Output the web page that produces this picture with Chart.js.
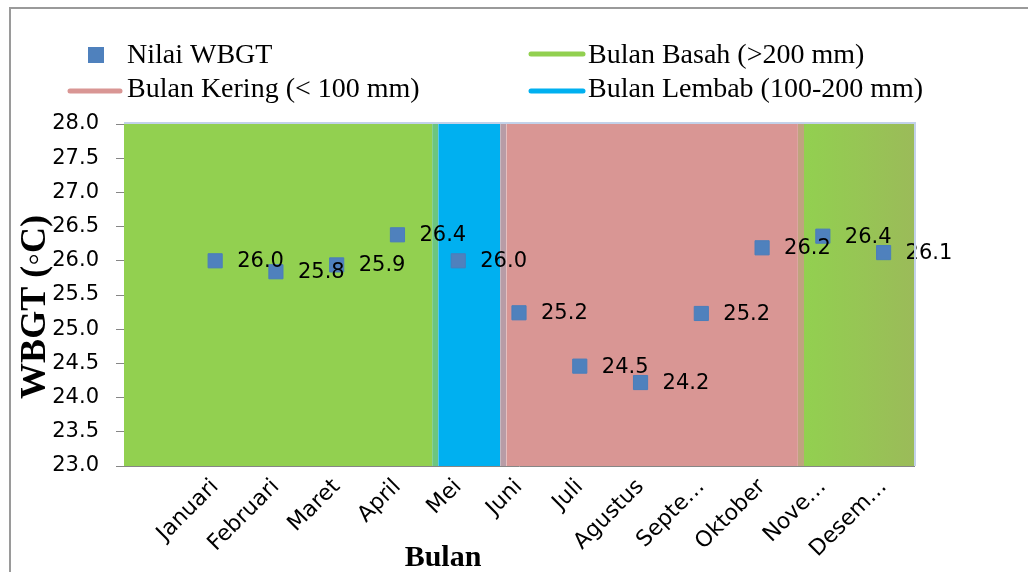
<!DOCTYPE html>
<html>
<head>
<meta charset="utf-8">
<script src="https://cdn.jsdelivr.net/npm/chart.js@4.4.1/dist/chart.umd.min.js"></script>
<style>
body { margin: 0; background: #fff; }
#wadah { position: relative; width: 1028px; height: 572px; overflow: hidden; }
#bingkai { position: absolute; left: 9px; top: 7px; width: 1100px; height: 700px; border: 2px solid #9a9a9a; }
#grafik { position: absolute; left: 0; top: 0; }
</style>
</head>
<body>
<div id="wadah">
  <div id="bingkai"></div>
  <canvas id="grafik" width="1028" height="572"></canvas>
</div>
<script>
// data
const bulan = ['Januari', 'Februari', 'Maret', 'April', 'Mei', 'Juni', 'Juli', 'Agustus', 'Septe…', 'Oktober', 'Nove…', 'Desem…'];
const nilaiWBGT = [26.0, 25.84, 25.94, 26.38, 26.0, 25.24, 24.46, 24.22, 25.23, 26.19, 26.36, 26.12];
const labelSumbuY = ['23.0', '23.5', '24.0', '24.5', '25.0', '25.5', '26.0', '26.5', '27.0', '27.5', '28.0'];

// pita musim (satuan = indeks bulan), termasuk garis peralihan tipis
const pitaAwal  = [-1.5, 3.57, 3.67, 4.69, 4.79, 9.59, 9.69];
const pitaAkhir = [3.57, 3.67, 4.69, 4.79, 9.59, 9.69, 11.5];
const pitaNama  = ['Bulan Basah (>200 mm)', '', 'Bulan Lembab (100-200 mm)', '', 'Bulan Kering (< 100 mm)', '', 'Bulan Basah (>200 mm)'];

const warnaPita = ['#92D050', '#6CC580', '#00B0F0', '#B89CA6', '#D99694', '#BFA47E', '#92D050'];
const warnaTitik = '#4F81BD';

const yMin = parseFloat(labelSumbuY[0]);
const yMax = parseFloat(labelSumbuY[labelSumbuY.length - 1]);

const datasetPita = pitaAwal.map((awal, i) => ({
    type: 'line',
    label: pitaNama[i],
    data: [{ x: awal, y: yMax }, { x: pitaAkhir[i], y: yMax }],
    borderColor: 'transparent',
    borderWidth: 0,
    pointRadius: 0,
    fill: 'start',
    order: 1,
    backgroundColor: i === pitaAwal.length - 1 ? function(c) {
        const ch = c.chart;
        if (!ch.chartArea) return warnaPita[i];
        const x0 = ch.scales.x.getPixelForValue(awal);
        const g = ch.ctx.createLinearGradient(x0, 0, ch.chartArea.right, 0);
        g.addColorStop(0, '#92D050');
        g.addColorStop(1, '#9BBB59');
        return g;
    } : warnaPita[i]
}));

// label nilai di kanan titik
const labelNilai = {
    id: 'labelNilai',
    afterDatasetsDraw(chart) {
        const ctx = chart.ctx;
        const meta = chart.getDatasetMeta(0);
        ctx.save();
        ctx.font = '21px "DejaVu Sans"';
        ctx.fillStyle = '#000';
        ctx.textAlign = 'left';
        ctx.textBaseline = 'middle';
        meta.data.forEach((pt, i) => {
            ctx.fillText(nilaiWBGT[i].toFixed(1), pt.x + 22, pt.y + 1);
        });
        ctx.restore();
    }
};

// bingkai area plot, legenda dan judul sumbu
const teksManual = {
    id: 'teksManual',
    afterDraw(chart) {
        const ctx = chart.ctx;
        const ca = chart.chartArea;
        ctx.save();
        ctx.strokeStyle = '#C3D2EA';
        ctx.lineWidth = 2;
        ctx.beginPath();
        ctx.moveTo(ca.left, ca.top - 1);
        ctx.lineTo(ca.right + 1, ca.top - 1);
        ctx.lineTo(ca.right + 1, ca.bottom);
        ctx.stroke();

        // legenda 2 kolom
        ctx.font = '28px "Liberation Serif"';
        ctx.fillStyle = '#000';
        ctx.textBaseline = 'alphabetic';
        ctx.textAlign = 'left';

        ctx.fillStyle = warnaTitik;
        ctx.fillRect(88, 47, 16, 16);
        ctx.fillStyle = '#000';
        ctx.fillText('Nilai WBGT', 127, 63);

        const garis = (x1, x2, y, warna) => {
            ctx.strokeStyle = warna;
            ctx.lineWidth = 5;
            ctx.lineCap = 'round';
            ctx.beginPath();
            ctx.moveTo(x1, y);
            ctx.lineTo(x2, y);
            ctx.stroke();
        };
        garis(531, 583, 54, warnaPita[0]);
        ctx.fillText(pitaNama[0], 588, 63);
        garis(70, 120, 91, warnaPita[4]);
        ctx.fillText(pitaNama[4], 127, 97);
        garis(531, 583, 91, warnaPita[2]);
        ctx.fillText(pitaNama[2], 588, 97);

        // judul sumbu
        ctx.font = 'bold 30px "Liberation Serif"';
        ctx.textAlign = 'center';
        ctx.fillText('Bulan', 443, 566);

        ctx.translate(45, 307);
        ctx.rotate(-Math.PI / 2);
        ctx.font = 'bold 36px "Liberation Serif"';
        ctx.fillText('WBGT (◦C)', 0, 0);
        ctx.restore();
    }
};

const grafik = new Chart(document.getElementById('grafik'), {
    type: 'scatter',
    data: {
        datasets: [{
            type: 'scatter',
            label: 'Nilai WBGT',
            data: nilaiWBGT.map((v, i) => ({ x: i, y: v })),
            pointStyle: 'rect',
            pointRadius: 10,
            pointHoverRadius: 10,
            backgroundColor: warnaTitik,
            borderColor: '#4A7EBB',
            borderWidth: 1,
            order: 0
        }].concat(datasetPita)
    },
    options: {
        responsive: false,
        animation: false,
        devicePixelRatio: 1,
        layout: { padding: { left: 0, right: 114, top: 124, bottom: 0 } },
        plugins: {
            legend: { display: false },
            tooltip: { enabled: false }
        },
        scales: {
            x: {
                type: 'linear',
                min: -1.5,
                max: 11.5,
                afterBuildTicks(s) {
                    s.ticks = bulan.map((b, i) => ({ value: i }));
                },
                afterFit(s) { s.height = 106; },
                grid: { display: false, drawTicks: false },
                border: { display: true, color: '#868686', width: 1 },
                ticks: {
                    autoSkip: false,
                    maxRotation: 45,
                    minRotation: 45,
                    padding: 8,
                    color: '#000',
                    font: { family: 'DejaVu Sans', size: 22 },
                    callback: (v, i) => bulan[i]
                }
            },
            y: {
                min: yMin,
                max: yMax,
                afterBuildTicks(s) {
                    s.ticks = labelSumbuY.map(t => ({ value: parseFloat(t) }));
                },
                afterFit(s) { s.width = 124; },
                grid: { display: true, drawOnChartArea: false, drawTicks: true, tickLength: 8, color: '#868686' },
                border: { display: true, color: '#868686', width: 1 },
                ticks: {
                    padding: 17,
                    color: '#000',
                    font: { family: 'DejaVu Sans', size: 21 },
                    callback: (v, i) => labelSumbuY[i]
                }
            }
        }
    },
    plugins: [labelNilai, teksManual]
});
</script>
</body>
</html>
